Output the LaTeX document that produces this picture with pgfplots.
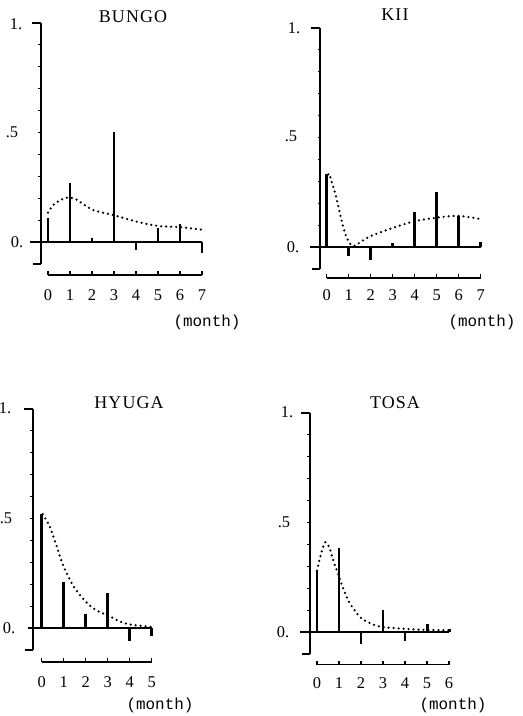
\documentclass[border=0pt]{standalone}
\usepackage{fontspec}
\setmainfont{Liberation Serif}
\newfontfamily\titlefont[LetterSpace=6]{Liberation Serif}
\newfontfamily\monofont{Liberation Mono}
\usepackage{pgfplots}
\pgfplotsset{compat=1.18}
\pgfplotsset{
  panel/.style={x=22bp, y=219bp, hide axis, clip=false, anchor=origin,
    ymin=-0.1, ymax=1.0, xmin=-1},
  spike/.style={ycomb, black, line width=3pt, mark=none},
  fit/.style={black, line width=2.5pt, line cap=round, dash pattern=on 0pt off 5pt, smooth, mark=none},
}
\newcommand\digfont{\fontsize{16.5}{16.5}\selectfont}
% #1 y-axis x, #2 zero-line start, #3 xmax, #4 lower axis y, #5 tick label y
\newcommand\decor[5]{%
  \draw[line width=1.3pt] (axis cs:#1,-0.1) -- (axis cs:#1,1.0);
  \draw[line width=1.3pt] (axis cs:#1,1.0) -- ++(-9bp,0bp);
  \draw[line width=1.3pt] (axis cs:#1,-0.1) -- ++(-8bp,0bp);
  \pgfplotsinvokeforeach{0.1,0.2,0.3,0.4,0.5,0.6,0.7,0.8,0.9}{\draw[line width=0.9pt] (axis cs:#1,##1) -- ++(-2.5bp,0bp);}
  \draw[line width=1.5pt] (axis cs:#2,0) -- (axis cs:#3,0);
  \draw[line width=1.3pt] (axis cs:0,#4) -- (axis cs:#3,#4);
  \pgfplotsinvokeforeach{0,...,#3}{%
    \draw[line width=1.3pt] (axis cs:##1,#4) -- ++(0bp,4bp);
    \node[font=\digfont] at (axis cs:##1,#5) {##1};}
}
\begin{document}
\begin{tikzpicture}
\path[use as bounding box] (0,0) rectangle (523bp,716bp);

% BUNGO
\begin{axis}[panel, at={(48bp,474bp)}, xmax=7]
\decor{-0.32}{-0.82}{7}{-0.151}{-0.242}
\addplot[spike] coordinates {(0,0.11)(1,0.27)(2,0.02)(3,0.50)(4,-0.035)(5,0.065)(6,0.08)(7,-0.05)};
\addplot[fit] coordinates {(0,0.134)(0.3,0.175)(0.84,0.202)(1.3,0.193)(2,0.148)(3,0.122)(4,0.094)(5,0.073)(6,0.068)(7,0.056)};
\end{axis}

% KII
\begin{axis}[panel, at={(326.7bp,469bp)}, xmax=7]
\decor{-0.3}{-0.76}{7}{-0.142}{-0.22}
\addplot[spike] coordinates {(0,0.335)(1,-0.04)(2,-0.06)(3,0.02)(4,0.16)(5,0.25)(6,0.14)(7,0.023)};
\addplot[fit] coordinates {(0,0.31)(0.1,0.335)(0.25,0.29)(0.45,0.22)(0.68,0.12)(0.88,0.05)(1.1,0.01)(1.25,0.005)(1.5,0.02)(2,0.05)(3,0.087)(4,0.118)(5,0.134)(6,0.142)(7,0.127)};
\end{axis}

% HYUGA
\begin{axis}[panel, at={(41.7bp,88bp)}, xmax=5]
\decor{-0.4}{-0.62}{5}{-0.155}{-0.247}
\addplot[spike] coordinates {(0,0.52)(1,0.21)(2,0.065)(3,0.16)(4,-0.06)(5,-0.035)};
\addplot[fit] coordinates {(0.05,0.52)(0.38,0.46)(0.69,0.37)(1,0.28)(1.45,0.19)(2,0.12)(2.5,0.08)(3,0.058)(3.5,0.032)(4,0.016)(4.5,0.01)(5,0.005)};
\end{axis}

% TOSA
\begin{axis}[panel, at={(317bp,84bp)}, xmax=6]
\decor{-0.32}{-0.77}{6}{-0.15}{-0.233}
\addplot[spike] coordinates {(0,0.28)(1,0.385)(2,-0.055)(3,0.10)(4,-0.04)(5,0.038)(6,0.012)};
\addplot[fit] coordinates {(0,0.28)(0.2,0.364)(0.38,0.41)(0.56,0.385)(0.76,0.32)(0.96,0.265)(1.2,0.197)(1.46,0.136)(1.96,0.068)(2.46,0.038)(2.96,0.023)(3.9,0.015)(4.9,0.01)(6,0.008)};
\end{axis}

% titles
\node[font=\titlefont\fontsize{18}{18}\selectfont] at (133bp,699bp) {BUNGO};
\node[font=\titlefont\fontsize{18}{18}\selectfont] at (395bp,701bp) {KII};
\node[font=\titlefont\fontsize{18}{18}\selectfont] at (129bp,313bp) {HYUGA};
\node[font=\titlefont\fontsize{18}{18}\selectfont] at (395bp,313bp) {TOSA};
% y labels
\node[font=\digfont] at (16bp,692bp) {1.};
\node[font=\digfont] at (12bp,584bp) {.5};
\node[font=\digfont] at (17bp,474bp) {0.};
\node[font=\digfont] at (294bp,688bp) {1.};
\node[font=\digfont] at (291bp,580bp) {.5};
\node[font=\digfont] at (293bp,469bp) {0.};
\node[font=\digfont] at (5bp,308bp) {1.};
\node[font=\digfont] at (6bp,198bp) {.5};
\node[font=\digfont] at (9bp,88bp) {0.};
\node[font=\digfont] at (287bp,304bp) {1.};
\node[font=\digfont] at (284bp,194bp) {.5};
\node[font=\digfont] at (283bp,84bp) {0.};
% (month)
\node[font=\monofont\fontsize{16}{16}\selectfont] at (207bp,394bp) {(month)};
\node[font=\monofont\fontsize{16}{16}\selectfont] at (482bp,394bp) {(month)};
\node[font=\monofont\fontsize{16}{16}\selectfont] at (160bp,11bp) {(month)};
\node[font=\monofont\fontsize{16}{16}\selectfont] at (453bp,11bp) {(month)};
\end{tikzpicture}
\end{document}
